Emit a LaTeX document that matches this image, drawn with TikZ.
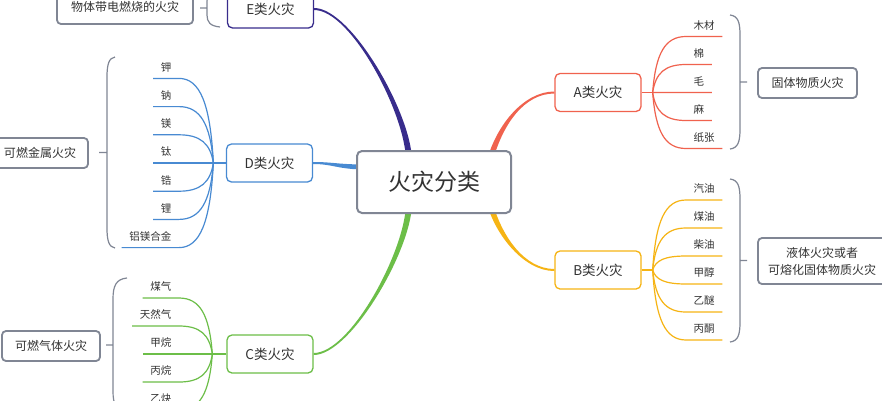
\documentclass[tikz,border=0pt]{standalone}
\usepackage{fontspec}
\setmainfont{Noto Sans CJK SC}
\usetikzlibrary{calc,backgrounds}

\definecolor{acol}{RGB}{240,98,78}
\definecolor{bcol}{RGB}{246,180,20}
\definecolor{ccol}{RGB}{108,190,72}
\definecolor{dcol}{RGB}{72,138,210}
\definecolor{ecol}{RGB}{56,44,140}
\definecolor{gcol}{RGB}{128,134,148}
\definecolor{txt}{RGB}{51,51,51}

\begin{document}
\begin{tikzpicture}[x=1pt, y=-1pt,
	root/.style={draw=gcol, line width=2pt, rounded corners=5pt, fill=white, text=txt, minimum width=154pt, minimum height=62pt, font=\fontsize{23}{28}\selectfont},
	kind/.style={draw=#1, line width=1.3pt, rounded corners=5pt, fill=white, text=txt, minimum width=86pt, minimum height=38pt, font=\fontsize{13.5}{16}\selectfont},
	sum/.style={draw=gcol, line width=1.8pt, rounded corners=4pt, fill=white, text=txt, align=center, font=\fontsize{12}{17}\selectfont},
	leaf/.style={text=txt, inner xsep=7.5pt, inner ysep=5pt, text height=8pt, text depth=2pt, font=\fontsize{10.5}{12}\selectfont},
	leafR/.style={leaf, anchor=south west},
	leafL/.style={leaf, anchor=south east},
	fanR/.style={line width=1.2pt, to path={.. controls ($(\tikztostart)!0.7!(\tikztostart |- \tikztotarget.south)+(3,0)$) and ($(\tikztotarget.south west)+(-21,0)$) .. (\tikztotarget.south west) -- (\tikztotarget.south east)}},
	fanL/.style={line width=1.2pt, to path={.. controls ($(\tikztostart)!0.7!(\tikztostart |- \tikztotarget.south)+(-3,0)$) and ($(\tikztotarget.south east)+(21,0)$) .. (\tikztotarget.south east) -- (\tikztotarget.south west)}},
	brace/.style={draw=gcol, line width=1.2pt},
	stub/.style={line width=1.4pt}]
	\useasboundingbox (0,0) rectangle (882,400);

	% centre and the five classes
	\node[root] (root) at (434,182) {火灾分类};
	\node[kind=acol] (a) at (598,92.5) {A类火灾};
	\node[kind=bcol] (b) at (598,270) {B类火灾};
	\node[kind=ccol] (c) at (270,354) {C类火灾};
	\node[kind=dcol] (d) at (269.5,163) {D类火灾};
	\node[kind=ecol] (e) at (270.5,9) {E类火灾};

	% summaries
	\node[sum, minimum width=99pt, minimum height=30pt] (sa) at (807.5,83) {固体物质火灾};
	\node[sum, minimum width=128pt, minimum height=46pt] (sb) at (822,261) {液体火灾或者\\可熔化固体物质火灾};
	\node[sum, minimum width=98pt, minimum height=30pt] (sc) at (51,346) {可燃气体火灾};
	\node[sum, minimum width=96pt, minimum height=30pt] (sd) at (40,153) {可燃金属火灾};
	\node[sum, minimum width=136pt, minimum height=34pt] (se) at (125,7) {物体带电燃烧的火灾};

	\coordinate (afan) at ($(a.east)+(11,0)$);
	\coordinate (bfan) at ($(b.east)+(11,0)$);
	\coordinate (cfan) at ($(c.west)+(-14,0)$);
	\coordinate (dfan) at ($(d.west)+(-12.5,0)$);

	% A
	\node[leafR] (a1) at (686,36.5) {木材};
	\node[leafR] (a2) at (686,64.5) {棉};
	\node[leafR] (a3) at (686,92.5) {毛};
	\node[leafR] (a4) at (686,120.5) {麻};
	\node[leafR] (a5) at (686,148.5) {纸张};
	% B
	\node[leafR] (b1) at (686,200) {汽油};
	\node[leafR] (b2) at (686,228) {煤油};
	\node[leafR] (b3) at (686,256) {柴油};
	\node[leafR] (b4) at (686,284) {甲醇};
	\node[leafR] (b5) at (686,312) {乙醚};
	\node[leafR] (b6) at (686,340) {丙酮};
	% C
	\node[leafL] (c1) at (179,298) {煤气};
	\node[leafL] (c2) at (179,326) {天然气};
	\node[leafL] (c3) at (179,354) {甲烷};
	\node[leafL] (c4) at (179,382) {丙烷};
	\node[leafL] (c5) at (179,410) {乙炔};
	% D
	\node[leafL] (d1) at (179,78.4) {钾};
	\node[leafL] (d2) at (179,106.6) {钠};
	\node[leafL] (d3) at (179,134.8) {镁};
	\node[leafL] (d4) at (179,163) {钛};
	\node[leafL] (d5) at (179,191.2) {锆};
	\node[leafL] (d6) at (179,219.4) {锂};
	\node[leafL] (d7) at (179,247.6) {铝镁合金};

	\begin{scope}[on background layer]
		\fill[white] (0,0) rectangle (882,400);
		\fill[ecol] ($(root.north)+(-22,10)$) .. controls ($(root.north)+(-23,-37)$) and ($(e.east)+(37,-1)$) .. ($(e.east)+(0,-1)$) -- ($(e.east)+(0,1)$) .. controls ($(e.east)+(37,1)$) and ($(root.north)+(-29,-37)$) .. ($(root.north)+(-28,10)$) -- cycle;
		\fill[ccol] ($(root.south)+(-22,-10)$) .. controls ($(root.south)+(-23,37)$) and ($(c.east)+(37,1)$) .. ($(c.east)+(0,1)$) -- ($(c.east)+(0,-1)$) .. controls ($(c.east)+(37,-1)$) and ($(root.south)+(-29,37)$) .. ($(root.south)+(-28,-10)$) -- cycle;
		\fill[acol] ($(root.north)+(59,10)$) .. controls ($(root.north)+(69,-26)$) and ($(a.west)+(-30,1)$) .. ($(a.west)+(0,1)$) -- ($(a.west)+(0,-1)$) .. controls ($(a.west)+(-30,-1)$) and ($(root.north)+(63,-26)$) .. ($(root.north)+(53,10)$) -- cycle;
		\fill[bcol] ($(root.south)+(59,-10)$) .. controls ($(root.south)+(68,22)$) and ($(b.west)+(-30,-1)$) .. ($(b.west)+(0,-1)$) -- ($(b.west)+(0,1)$) .. controls ($(b.west)+(-30,1)$) and ($(root.south)+(62,22)$) .. ($(root.south)+(53,-10)$) -- cycle;
		\fill[dcol] ($(d.east)+(0,-1)$) .. controls ($(d.east)+(20,-1)$) and ($(root.west)+(-18,-17.5)$) .. ($(root.west)+(10,-17.5)$) -- ($(root.west)+(10,-12.5)$) .. controls ($(root.west)+(-18,-12.5)$) and ($(d.east)+(20,1)$) .. ($(d.east)+(0,1)$) -- cycle;
	\end{scope}

	\draw[acol, stub] (a.east) -- (afan);
	\draw[bcol, stub] (b.east) -- (bfan);
	\draw[ccol, stub] (c.west) -- (cfan);
	\draw[dcol, stub] (d.west) -- (dfan);

	\path[fanR, acol] (afan) edge (a1) (afan) edge (a2) (afan) edge (a3) (afan) edge (a4) (afan) edge (a5);
	\path[fanR, bcol] (bfan) edge (b1) (bfan) edge (b2) (bfan) edge (b3) (bfan) edge (b4) (bfan) edge (b5) (bfan) edge (b6);
	\path[fanL, ccol] (cfan) edge (c1) (cfan) edge (c2) (cfan) edge (c3) (cfan) edge (c4) (cfan) edge (c5);
	\path[fanL, dcol] (dfan) edge (d1) (dfan) edge (d2) (dfan) edge (d3) (dfan) edge (d4) (dfan) edge (d5) (dfan) edge (d6) (dfan) edge (d7);

	% summary brackets
	\draw[brace] (730,15) .. controls (738,16) and (740,22) .. (740,35) -- (740,129) .. controls (740,142) and (738,148) .. (730,149) (740,82) -- (747,82);
	\draw[brace] (730,179) .. controls (738,180) and (740,186) .. (740,199) -- (740,322) .. controls (740,335) and (738,341) .. (730,342) (740,260.5) -- (747,260.5);
	\draw[brace] (127,278) .. controls (116,279) and (113,286) .. (113,299) -- (113,391) .. controls (113,404) and (116,411) .. (127,412) (113,345) -- (106,345);
	\draw[brace] (115,57) .. controls (109,58) and (107,64) .. (107,77) -- (107,228) .. controls (107,241) and (109,247) .. (115,248) (107,152.5) -- (99,152.5);
	\draw[brace] (220,-11) .. controls (210,-10) and (207,-5) .. (207,1) -- (207,15) .. controls (207,22) and (210,26) .. (220,27) (207,8) -- (200,8);
\end{tikzpicture}
\end{document}
